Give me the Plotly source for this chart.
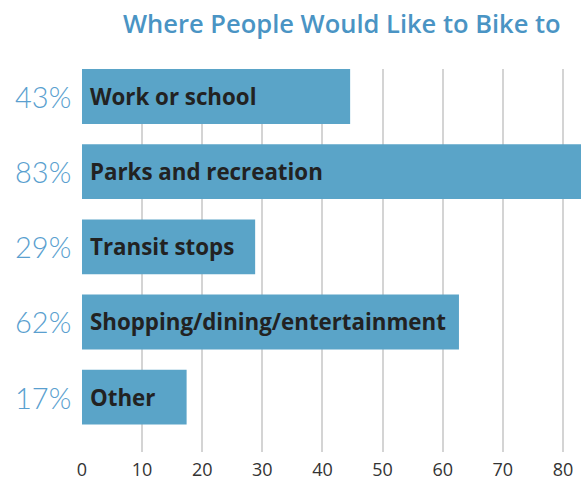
import plotly.graph_objects as go

categories = ["Work or school", "Parks and recreation", "Transit stops",
              "Shopping/dining/entertainment", "Other"]
pct_labels = ["43%", "83%", "29%", "62%", "17%"]
bar_values = [44.6, 83, 28.8, 62.7, 17.4]
x_ticks = [0, 10, 20, 30, 40, 50, 60, 70, 80]

BAR = "#5aa4c8"
TITLE = "#4a94c4"
PCT = "#5a9fcf"

fig = go.Figure(go.Bar(
    x=bar_values, y=categories, orientation="h",
    marker=dict(color=BAR, line=dict(width=0)),
    hoverinfo="skip",
))

annotations = []
for c, p in zip(categories, pct_labels):
    annotations.append(dict(
        x=0, y=c, xref="paper", yref="y", text=p, showarrow=False,
        xanchor="right", yanchor="middle", xshift=-9,
        font=dict(family="Lato", size=29, color=PCT, weight=300),
    ))
    annotations.append(dict(
        x=0, y=c, xref="x", yref="y", text=c, showarrow=False,
        xanchor="left", yanchor="middle", xshift=6,
        font=dict(family="Open Sans", size=22.3, color="#222222", weight="bold"),
    ))
annotations.append(dict(
    x=1, y=1, xref="paper", yref="paper", yshift=65, xshift=-18,
    text="Where People Would Like to Bike to", showarrow=False,
    xanchor="right", yanchor="top",
    font=dict(family="Open Sans", size=25.5, color=TITLE, weight=600),
))

fig.update_layout(
    width=581, height=480,
    margin=dict(l=82, r=0, t=69, b=28),
    paper_bgcolor="white", plot_bgcolor="white",
    bargap=0.27, showlegend=False,
    annotations=annotations,
    xaxis=dict(range=[0, 83], tickvals=x_ticks, showgrid=True,
               gridcolor="#d4d4d4", gridwidth=2, zeroline=False,
               showline=False, ticks="", ticklabelstandoff=5,
               tickfont=dict(family="Open Sans", size=18, color="#333333"),
               fixedrange=True),
    yaxis=dict(type="category", categoryorder="array", categoryarray=categories,
               range=[4.73, -0.366], showticklabels=False, showgrid=False,
               zeroline=False, ticks="", fixedrange=True),
)

fig.write_html("out.html")
